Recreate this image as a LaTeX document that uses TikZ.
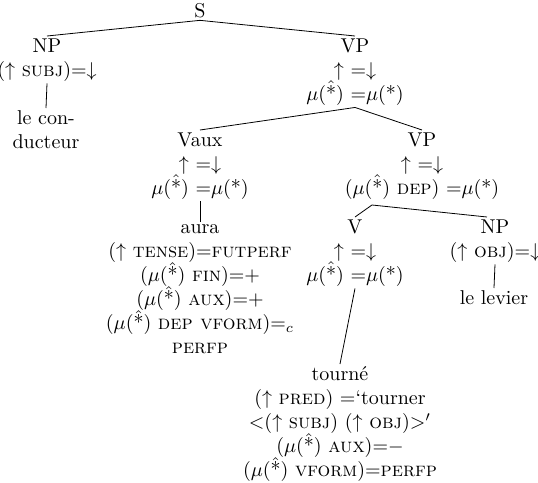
\documentclass[tikz,border=0pt]{standalone}
\usepackage{amsmath}

\tikzstyle{cat} = [align=center, inner sep=1pt, anchor=north]
\tikzstyle{word} = [align=center, inner sep=1pt, anchor=north]
\tikzstyle{branch} = [thin, black]

\newcommand{\hstar}{\smash{\ooalign{*\cr\hidewidth\raisebox{2.6pt}{$\hat{\phantom{x}}$}\hidewidth\cr}}}
\newcommand{\mhat}{$\mu$(\hstar)}
\newcommand{\mstar}{$\mu$(*)}

\begin{document}
\begin{tikzpicture}[x=0.5pt, y=-0.5pt]
		\useasboundingbox (0,0) rectangle (538,483);

		\node (s) [cat] at (200,1) {S};
		\node (subjNP) [cat] at (47,36) {NP\\($\uparrow$ \textsc{subj})=$\downarrow$};
		\node (conducteur) [word] at (46,108) {le con-\\ducteur};
		\node (topVP) [cat] at (355,36) {VP\\$\uparrow$ =$\downarrow$\\\mhat{} =\mstar};
		\node (vaux) [cat] at (200,130) {Vaux\\$\uparrow$ =$\downarrow$\\\mhat{} =\mstar};
		\node (aura) [word] at (200,222) {aura\\($\uparrow$ \textsc{tense})=\textsc{futperf}\\(\mhat{} \textsc{fin})=+\\(\mhat{} \textsc{aux})=+\\(\mhat{} \textsc{dep vform})$=_c$\\\textsc{perfp}};
		\node (lowVP) [cat] at (422,130) {VP\\$\uparrow$ =$\downarrow$\\(\mhat{} \textsc{dep}) =\mstar};
		\coordinate (lowVPfork) at (372,205);
		\node (verb) [cat] at (355,217) {V\\$\uparrow$ =$\downarrow$\\\mhat{} =\mstar};
		\node (objNP) [cat] at (495,217) {NP\\($\uparrow$ \textsc{obj})=$\downarrow$};
		\node (levier) [word] at (494,288) {le levier};
		\node (tourne) [word] at (340,364) {tourné\\($\uparrow$ \textsc{pred}) =`tourner\\$<$($\uparrow$ \textsc{subj}) ($\uparrow$ \textsc{obj})$>'$\\(\mhat{} \textsc{aux})=$-$\\(\mhat{} \textsc{vform})=\textsc{perfp}};

		\draw [branch] (s.south) -- (subjNP.north);
		\draw [branch] (s.south) -- (topVP.north);
		\draw [branch] (subjNP.south) -- (conducteur.north);
		\draw [branch] (topVP.south) -- (vaux.north);
		\draw [branch] (topVP.south) -- (lowVP.north);
		\draw [branch] (vaux.south) -- (aura.north);
		\draw [branch] (lowVPfork) -- (verb.north);
		\draw [branch] (lowVPfork) -- ([xshift=-4pt]objNP.north);
		\draw [branch] (objNP.south) -- (levier.north);
		\draw [branch] (verb.south) -- (tourne.north);

	\end{tikzpicture}
\end{document}
